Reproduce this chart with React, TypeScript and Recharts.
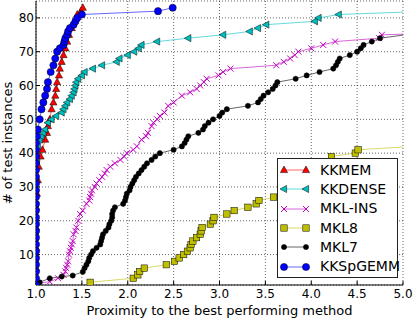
import { CartesianGrid, Legend, Line, LineChart, XAxis, YAxis } from "recharts";

type Pt = [number, number];
type Shape = "triUp" | "triLeft" | "cross" | "square" | "dot" | "circle";

const X_TICKS = [1.0, 1.5, 2.0, 2.5, 3.0, 3.5, 4.0, 4.5, 5.0];
const Y_TICKS = [10, 20, 30, 40, 50, 60, 70, 80];

// [proximity ratio, # of test instances]
const KKMEM: Pt[] = [
  [1.0, 1], [1.0, 6], [1.0, 12], [1.0, 18], [1.0, 24], [1.01, 28], [1.02, 32], [1.03, 36],
  [1.05, 39], [1.07, 41], [1.1, 44], [1.12, 46], [1.13, 48], [1.15, 50], [1.17, 53], [1.19, 55],
  [1.21, 57], [1.22, 59], [1.23, 61], [1.25, 63], [1.26, 65], [1.28, 67], [1.3, 69], [1.32, 71],
  [1.34, 73], [1.36, 75], [1.39, 77], [1.42, 79], [1.45, 81], [1.49, 82], [1.51, 83],
];

const KKDENSE: Pt[] = [
  [1.0, 1], [1.0, 8], [1.0, 16], [1.0, 24], [1.0, 32], [1.01, 38], [1.02, 42], [1.04, 44],
  [1.06, 45], [1.08, 46], [1.1, 47], [1.13, 49], [1.17, 50], [1.22, 51], [1.28, 52], [1.3, 53],
  [1.32, 54], [1.34, 55], [1.37, 56], [1.39, 57], [1.41, 58], [1.42, 59], [1.43, 60], [1.44, 61],
  [1.46, 62], [1.5, 63], [1.53, 64], [1.62, 65], [1.72, 66], [1.88, 67], [1.91, 68], [2.0, 69],
  [2.07, 70], [2.12, 71], [2.15, 72], [2.32, 73], [2.66, 74], [3.04, 75], [3.33, 76], [3.42, 77],
  [3.51, 78], [4.04, 79], [4.08, 80], [4.3, 81], [5.3, 82],
];

const MKL_INS: Pt[] = [
  [1.03, 1.5], [1.15, 2], [1.24, 3], [1.3, 4], [1.32, 5], [1.33, 6], [1.34, 7], [1.35, 8],
  [1.36, 10], [1.37, 11], [1.38, 12], [1.39, 13], [1.4, 14], [1.41, 16], [1.43, 17], [1.44, 18],
  [1.46, 20], [1.48, 22], [1.51, 23], [1.55, 25], [1.58, 26], [1.59, 27], [1.6, 28], [1.61, 29],
  [1.64, 30], [1.66, 31], [1.69, 32], [1.72, 33], [1.75, 34], [1.77, 35], [1.81, 36], [1.86, 37],
  [1.92, 38], [1.96, 39], [1.99, 40], [2.06, 41], [2.1, 42], [2.15, 44], [2.2, 45], [2.22, 46],
  [2.26, 48], [2.28, 49], [2.32, 50], [2.35, 51], [2.4, 52], [2.44, 54], [2.5, 55], [2.59, 57],
  [2.68, 58], [2.75, 59], [2.79, 60], [2.83, 61], [2.86, 62], [2.99, 63], [3.04, 64], [3.12, 65],
  [3.62, 66], [3.7, 67], [3.77, 68], [3.82, 69], [3.86, 70], [4.0, 71], [4.13, 72], [4.26, 73],
  [4.74, 74], [4.77, 75], [6.0, 76],
];

const MKL8: Pt[] = [
  [1.59, 1.8], [2.06, 3], [2.11, 4], [2.13, 5], [2.18, 6], [2.42, 7], [2.51, 8], [2.56, 9],
  [2.61, 10], [2.65, 11], [2.68, 12], [2.69, 13], [2.71, 14], [2.75, 15], [2.79, 16], [2.8, 17],
  [2.81, 18], [2.9, 19], [2.93, 20], [2.94, 21], [3.08, 22], [3.16, 23], [3.31, 24], [3.4, 25],
  [3.43, 26], [3.59, 27], [3.75, 30], [3.9, 33], [4.05, 36], [4.22, 39], [4.48, 40], [4.51, 41],
  [5.3, 42.3],
];

const MKL7: Pt[] = [
  [1.04, 1.8], [1.15, 3], [1.28, 3.5], [1.4, 3.8], [1.51, 4.9], [1.53, 6], [1.55, 7], [1.57, 8],
  [1.58, 9], [1.6, 10], [1.62, 11], [1.66, 12], [1.7, 13], [1.71, 14], [1.72, 15], [1.73, 16],
  [1.76, 17], [1.79, 18], [1.8, 19], [1.82, 20], [1.83, 21], [1.83, 22], [1.84, 23], [1.86, 24],
  [1.95, 25], [1.97, 26], [1.98, 27], [1.99, 28], [2.02, 29], [2.03, 30], [2.05, 31], [2.07, 32],
  [2.09, 33], [2.12, 34], [2.15, 35], [2.18, 36], [2.21, 37], [2.26, 38], [2.3, 39], [2.35, 40],
  [2.5, 41], [2.59, 42], [2.62, 43], [2.64, 44], [2.66, 45], [2.77, 46], [2.82, 47], [2.84, 48],
  [2.88, 49], [2.93, 50], [3.0, 51], [3.03, 52], [3.08, 53], [3.31, 54], [3.42, 55], [3.45, 56],
  [3.48, 57], [3.53, 58], [3.58, 59], [3.61, 60], [3.63, 61], [3.83, 62], [3.95, 63], [4.09, 64],
  [4.24, 65], [4.27, 66], [4.29, 67], [4.31, 68], [4.42, 69], [4.5, 70], [4.54, 71], [4.57, 72],
  [4.66, 73], [4.75, 74], [5.3, 76],
];

const KKSPGEMM: Pt[] = [
  [1.0, 1], [1.0, 3], [1.0, 5], [1.0, 7], [1.0, 9], [1.0, 11], [1.0, 13], [1.0, 15], [1.0, 17],
  [1.0, 19], [1.0, 21], [1.0, 23], [1.0, 25], [1.0, 27], [1.0, 29], [1.0, 31], [1.0, 33],
  [1.0, 35], [1.0, 37], [1.0, 39], [1.0, 41], [1.0, 43], [1.01, 45], [1.02, 47], [1.04, 50],
  [1.06, 53], [1.08, 55], [1.1, 57], [1.12, 59], [1.13, 61], [1.16, 64], [1.19, 66], [1.21, 68],
  [1.23, 70], [1.26, 71], [1.3, 72], [1.31, 73], [1.32, 74], [1.34, 75], [1.35, 76], [1.37, 77],
  [1.41, 78], [1.43, 79], [1.45, 80], [1.5, 81], [2.33, 82], [2.49, 83],
];

const SERIES: { name: string; points: Pt[]; color: string; shape: Shape }[] = [
  { name: "KKMEM", points: KKMEM, color: "#ff0000", shape: "triUp" },
  { name: "KKDENSE", points: KKDENSE, color: "#00bfbf", shape: "triLeft" },
  { name: "MKL-INS", points: MKL_INS, color: "#bf00bf", shape: "cross" },
  { name: "MKL8", points: MKL8, color: "#bfbf00", shape: "square" },
  { name: "MKL7", points: MKL7, color: "#000000", shape: "dot" },
  { name: "KKSpGEMM", points: KKSPGEMM, color: "#0000ff", shape: "circle" },
];

const FONT = "'DejaVu Sans', sans-serif";
const EDGE = "#000";

function Marker({ cx, cy, shape, color }: { cx: number; cy: number; shape: Shape; color: string }) {
  if (cx == null || cy == null || isNaN(cx) || isNaN(cy)) return <g />;
  switch (shape) {
    case "triUp":
      return (
        <polygon
          points={`${cx},${cy - 4} ${cx - 3.6},${cy + 2.6} ${cx + 3.6},${cy + 2.6}`}
          fill={color}
          stroke={EDGE}
          strokeWidth={0.5}
        />
      );
    case "triLeft":
      return (
        <polygon
          points={`${cx - 4},${cy} ${cx + 2.6},${cy - 3.6} ${cx + 2.6},${cy + 3.6}`}
          fill={color}
          stroke={EDGE}
          strokeWidth={0.5}
        />
      );
    case "cross":
      return (
        <path
          d={`M${cx - 3},${cy - 3}L${cx + 3},${cy + 3}M${cx - 3},${cy + 3}L${cx + 3},${cy - 3}`}
          stroke={color}
          strokeWidth={1}
          fill="none"
        />
      );
    case "square":
      return <rect x={cx - 3.2} y={cy - 3.2} width={6.4} height={6.4} fill={color} stroke={EDGE} strokeWidth={0.5} />;
    case "dot":
      return <circle cx={cx} cy={cy} r={2.6} fill={color} stroke={EDGE} strokeWidth={0.5} />;
    default:
      return <circle cx={cx} cy={cy} r={3.6} fill={color} stroke={EDGE} strokeWidth={0.5} />;
  }
}

function LegendBox() {
  return (
    <div
      style={{
        width: 119,
        height: 116.5,
        paddingTop: 1.5,
        border: "1px solid #222",
        background: "#fff",
        fontFamily: FONT,
        fontSize: 14,
        color: "#000",
      }}
    >
      {SERIES.map((s) => (
        <div key={s.name} style={{ display: "flex", alignItems: "center", height: 19.3 }}>
          <svg width={36} height={12} style={{ display: "block", flex: "none" }}>
            <line x1={6} x2={28} y1={6} y2={6} stroke={s.color} strokeOpacity={0.6} strokeWidth={1} />
            <Marker cx={6} cy={6} shape={s.shape} color={s.color} />
            <Marker cx={28} cy={6} shape={s.shape} color={s.color} />
          </svg>
          <span style={{ marginLeft: 6, lineHeight: "19px", whiteSpace: "nowrap" }}>{s.name}</span>
        </div>
      ))}
    </div>
  );
}

export default function App() {
  return (
    <div style={{ position: "fixed", left: 0, top: 0, width: 415, height: 319, background: "#fff", fontFamily: FONT }}>
      <LineChart width={415} height={319} margin={{ top: 1, right: 12, bottom: 0, left: 0 }}>
        <CartesianGrid stroke="#000" strokeWidth={0.6} strokeDasharray="1 2" />
        <XAxis
          dataKey="x"
          type="number"
          domain={[1, 5]}
          ticks={X_TICKS}
          allowDataOverflow
          height={34}
          tickFormatter={(v: number) => v.toFixed(1)}
          tick={{ fontSize: 12, fill: "#000" }}
          tickSize={-4}
          tickMargin={8}
          tickLine={{ stroke: "#000" }}
          axisLine={{ stroke: "#000" }}
          label={{
            value: "Proximity to the best performing method",
            position: "insideBottom",
            offset: 4,
            style: { fontSize: 13, fill: "#000" },
          }}
        />
        <XAxis
          xAxisId="top"
          orientation="top"
          dataKey="x"
          type="number"
          domain={[1, 5]}
          ticks={X_TICKS}
          allowDataOverflow
          height={0}
          tick={false}
          tickSize={-4}
          tickLine={{ stroke: "#000" }}
          axisLine={{ stroke: "#000" }}
        />
        <YAxis
          type="number"
          domain={[1, 85]}
          ticks={Y_TICKS}
          allowDataOverflow
          width={36}
          tick={{ fontSize: 12, fill: "#000" }}
          tickSize={-4}
          tickMargin={6}
          tickLine={{ stroke: "#000" }}
          axisLine={{ stroke: "#000" }}
          label={{
            value: "# of test instances",
            angle: -90,
            position: "insideLeft",
            offset: 7,
            style: { textAnchor: "middle", fontSize: 13, fill: "#000" },
          }}
        />
        <YAxis
          yAxisId="right"
          orientation="right"
          type="number"
          domain={[1, 85]}
          ticks={Y_TICKS}
          allowDataOverflow
          width={0}
          tick={false}
          tickSize={-4}
          tickLine={{ stroke: "#000" }}
          axisLine={{ stroke: "#000" }}
        />
        {SERIES.map((s) => (
          <Line
            key={s.name}
            name={s.name}
            data={s.points.map(([x, n]) => ({ x, n }))}
            dataKey="n"
            type="linear"
            stroke={s.color}
            strokeOpacity={0.6}
            strokeWidth={1}
            isAnimationActive={false}
            dot={(p: any) => <Marker key={`${s.name}-${p.index}`} cx={p.cx} cy={p.cy} shape={s.shape} color={s.color} />}
            activeDot={false}
          />
        ))}
        <Legend
          layout="horizontal"
          verticalAlign="middle"
          align="center"
          wrapperStyle={{ left: 277, top: 158, width: 121, height: 120 }}
          content={() => <LegendBox />}
        />
      </LineChart>
    </div>
  );
}
